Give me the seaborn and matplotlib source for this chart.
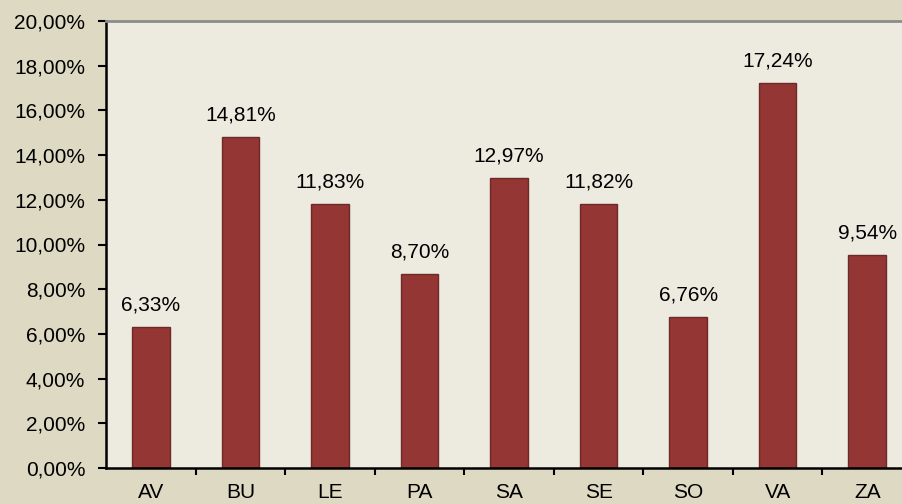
import matplotlib
matplotlib.use('Agg')
import matplotlib.pyplot as plt
import seaborn as sns
from matplotlib.ticker import FuncFormatter, FixedLocator

# Data
provinces = ['AV', 'BU', 'LE', 'PA', 'SA', 'SE', 'SO', 'VA', 'ZA']
shares = [6.33, 14.81, 11.83, 8.70, 12.97, 11.82, 6.76, 17.24, 9.54]

sns.set_style('white')
plt.rcParams['font.family'] = ['Liberation Sans', 'DejaVu Sans']
plt.rcParams['text.color'] = 'black'
plt.rcParams['xtick.color'] = 'black'
plt.rcParams['ytick.color'] = 'black'

fs = 15

fig = plt.figure(figsize=(9.02, 5.04), dpi=100)
fig.patch.set_facecolor('#DDD9C3')
ax = fig.add_axes([106 / 902, 36 / 504, 806 / 902, 447 / 504])
ax.set_facecolor('#EDEBE0')

sns.barplot(x=provinces, y=shares, color='#943634', width=0.42,
            edgecolor='#6E2A28', linewidth=1, saturation=1, ax=ax)

for i, v in enumerate(shares):
    ax.annotate(f'{v:.2f}%'.replace('.', ','), (i, v), xytext=(0, 9),
                textcoords='offset points', ha='center', va='bottom',
                fontsize=fs, color='black')

ax.set_xlim(-0.5, 8.5)
ax.set_ylim(0, 20)
ax.set_yticks(range(0, 21, 2))
ax.yaxis.set_major_formatter(FuncFormatter(lambda y, _: f'{y:.2f}%'.replace('.', ',')))

# category separators as minor ticks on the x axis
ax.xaxis.set_minor_locator(FixedLocator([i + 0.5 for i in range(len(provinces) - 1)]))
ax.tick_params(axis='x', which='major', length=0, pad=11, labelsize=fs, labelcolor='black')
ax.tick_params(axis='x', which='minor', direction='out', length=5, width=1.5, color='black', bottom=True)
ax.tick_params(axis='y', direction='out', length=6, width=1.5, color='black', pad=9,
               labelsize=fs, labelcolor='black', left=True)

for side in ['left', 'bottom']:
    ax.spines[side].set_color('black')
    ax.spines[side].set_linewidth(1.8)
ax.spines['right'].set_visible(False)
ax.spines['top'].set_color('#8C8C8C')
ax.spines['top'].set_linewidth(2)
ax.set_xlabel('')
ax.set_ylabel('')

fig.savefig('out.png', dpi=100, facecolor=fig.get_facecolor())
